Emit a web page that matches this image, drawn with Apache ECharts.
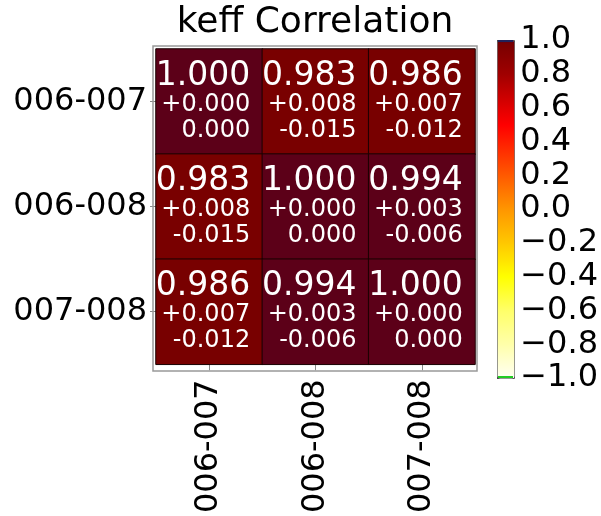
<!DOCTYPE html>
<html>
<head>
<meta charset="utf-8">
<script src="https://cdn.jsdelivr.net/npm/echarts@6/dist/echarts.min.js"></script>
<style>
html,body{margin:0;padding:0;background:#fff;}
#chart{width:601px;height:516px;}
</style>
</head>
<body>
<div id="chart"></div>
<script>
// ---- data ----
var categories = ['006-007', '006-008', '007-008'];
var corr = [
  [1.000, 0.983, 0.986],
  [0.983, 1.000, 0.994],
  [0.986, 0.994, 1.000]
];
var errPlus = [
  [0.000, 0.008, 0.007],
  [0.008, 0.000, 0.003],
  [0.007, 0.003, 0.000]
];
var errMinus = [
  [0.000, -0.015, -0.012],
  [-0.015, 0.000, -0.006],
  [-0.012, -0.006, 0.000]
];
var cbMin = -1.0, cbMax = 1.0, cbStep = 0.2;

// ---- colour map (style) ----
var anchors = [
  [-1.0, [255, 255, 245]],
  [-0.8, [255, 255, 170]],
  [-0.6, [255, 255, 105]],
  [-0.4, [255, 255, 0]],
  [-0.2, [255, 200, 0]],
  [0.0, [255, 150, 0]],
  [0.2, [255, 90, 0]],
  [0.4, [255, 30, 0]],
  [0.5, [255, 0, 0]],
  [0.6, [225, 0, 0]],
  [0.8, [160, 0, 0]],
  [0.98, [121, 0, 0]],
  [0.988, [120, 0, 0]],
  [0.991, [92, 0, 24]],
  [1.0, [92, 0, 24]]
];
function cmap(v) {
  for (var i = 0; i < anchors.length - 1; i++) {
    var a = anchors[i], b = anchors[i + 1];
    if (v <= b[0] + 1e-9) {
      var t = (v - a[0]) / (b[0] - a[0]);
      t = Math.max(0, Math.min(1, t));
      var c = a[1].map(function (x, k) { return Math.round(x + (b[1][k] - x) * t); });
      return 'rgb(' + c.join(',') + ')';
    }
  }
  return 'rgb(' + anchors[anchors.length - 1][1].join(',') + ')';
}
var colorList = [];
for (var i = 0; i <= 1000; i++) colorList.push(cmap(-1 + i * 0.002));

// ---- build heatmap data ----
var heatData = [];
for (var r = 0; r < categories.length; r++) {
  for (var c = 0; c < categories.length; c++) {
    heatData.push([c, r, corr[r][c], errPlus[r][c], errMinus[r][c]]);
  }
}
function fmtPlus(v) { return '+' + v.toFixed(3); }
function fmtMinus(v) { return v === 0 ? (0).toFixed(3) : v.toFixed(3); }

var G = { left: 156, top: 49, width: 319, height: 319 };
var CB = { left: 497, top: 40, width: 17, height: 338 };
var FONT = 'DejaVu Sans';

var chart = echarts.init(document.getElementById('chart'), null, { renderer: 'canvas' });
chart.setOption({
  backgroundColor: '#ffffff',
  animation: false,
  textStyle: { fontFamily: FONT },
  title: {
    text: 'keff Correlation',
    left: 315,
    top: 5,
    padding: 0,
    textAlign: 'center',
    textStyle: { fontFamily: FONT, fontSize: 36, fontWeight: 'normal', color: '#000' }
  },
  grid: [
    { left: G.left, top: G.top, width: G.width, height: G.height, show: false },
    { left: CB.left, top: CB.top, width: CB.width, height: CB.height, show: false }
  ],
  xAxis: [
    {
      type: 'category', data: categories, gridIndex: 0, position: 'bottom',
      axisLine: { show: false },
      axisTick: { show: true, length: 6, alignWithLabel: true, lineStyle: { color: '#888' }, inside: false },
      axisLabel: { rotate: 90, fontSize: 32, color: '#000', fontFamily: FONT, margin: 15 },
      splitLine: { show: false }
    },
    { type: 'value', gridIndex: 1, show: false, min: 0, max: 1 }
  ],
  yAxis: [
    {
      type: 'category', data: categories, gridIndex: 0, inverse: true,
      axisLine: { show: false },
      axisTick: { show: true, length: 6, alignWithLabel: true, lineStyle: { color: '#888' } },
      axisLabel: { fontSize: 32, color: '#000', fontFamily: FONT, margin: 9 },
      splitLine: { show: false }
    },
    {
      type: 'value', gridIndex: 1, position: 'right', min: cbMin, max: cbMax, interval: cbStep,
      axisLine: { show: false },
      axisTick: { show: true, length: 4, lineStyle: { color: '#333' } },
      splitLine: { show: false },
      axisLabel: {
        fontSize: 32, color: '#000', fontFamily: FONT, margin: 8,
        showMinLabel: true, showMaxLabel: true, hideOverlap: false,
        formatter: function (v) { return (v < 0 ? '\u2212' : '') + Math.abs(v).toFixed(1); }
      }
    }
  ],
  visualMap: {
    type: 'continuous',
    min: cbMin, max: cbMax,
    dimension: 2,
    seriesIndex: 0,
    calculable: false,
    hoverLink: false,
    orient: 'vertical',
    left: CB.left, top: CB.top,
    itemWidth: CB.width, itemHeight: CB.height,
    padding: 0,
    showLabel: false,
    text: null,
    borderColor: '#555',
    borderWidth: 1,
    inRange: { color: colorList }
  },
  series: [{
    type: 'heatmap',
    xAxisIndex: 0, yAxisIndex: 0,
    data: heatData,
    itemStyle: { borderColor: '#1a0000', borderWidth: 1 },
    emphasis: { disabled: true },
    label: {
      show: true,
      position: 'inside',
      align: 'right',
      offset: [41, 1],
      color: '#fff',
      formatter: function (p) {
        var d = p.data;
        return '{a|' + d[2].toFixed(3) + '}\n{b|' + fmtPlus(d[3]) + '}\n{b|' + fmtMinus(d[4]) + '}';
      },
      rich: {
        a: { fontSize: 33, lineHeight: 31, color: '#fff', fontFamily: FONT, align: 'right' },
        b: { fontSize: 24, lineHeight: 26, color: '#fff', fontFamily: FONT, align: 'right' }
      }
    }
  }],
  graphic: [
    {
      type: 'rect',
      silent: true,
      shape: { x: G.left - 3, y: G.top - 3, width: G.width + 5, height: G.height + 6 },
      style: { fill: null, stroke: '#999', lineWidth: 1.5 },
      z: 10
    },
    {
      type: 'line', silent: true, z: 10,
      shape: { x1: CB.left + 1, y1: CB.top + 1, x2: CB.left + CB.width - 1, y2: CB.top + 1 },
      style: { stroke: '#22225a', lineWidth: 2 }
    },
    {
      type: 'line', silent: true, z: 10,
      shape: { x1: CB.left + 1, y1: CB.top + CB.height - 1, x2: CB.left + CB.width - 1, y2: CB.top + CB.height - 1 },
      style: { stroke: '#22cc22', lineWidth: 2 }
    }
  ]
});
</script>
</body>
</html>
